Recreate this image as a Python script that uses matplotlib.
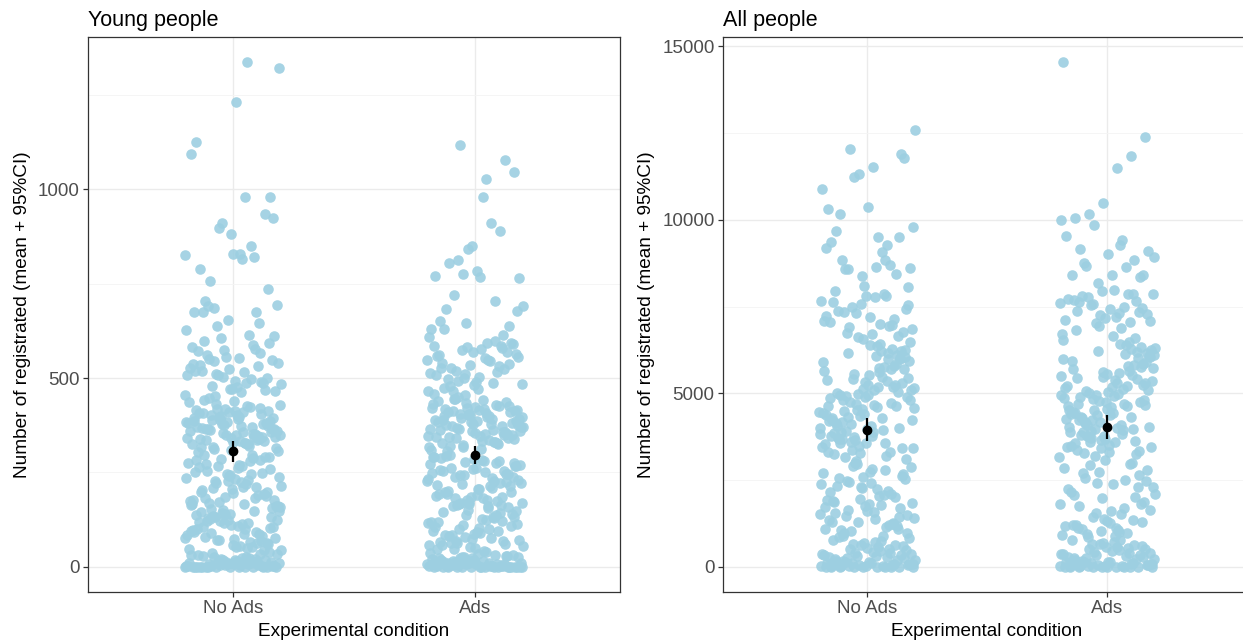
import numpy as np
import matplotlib
matplotlib.use("Agg")
import matplotlib.pyplot as plt
from matplotlib.ticker import MultipleLocator

plt.rcParams['font.family'] = ['Liberation Sans', 'DejaVu Sans']

conditions = ["No Ads", "Ads"]
panel_titles = ["Young people", "All people"]
y_label = "Number of registrated (mean + 95%CI)"
x_label = "Experimental condition"

young_noads = [
    0,0,0,0,0,0,0,0,0,0,0,3,5,2,8,1,12,6,0,15,4,9,22,0,18,7,30,11,25,3,14,0,35,19,2,27,6,38,10,0,21,16,33,4,28,0,13,9,24,37,1,17,31,5,20,
    45,88,120,62,140,97,53,131,75,108,145,67,115,84,49,126,102,58,137,91,71,149,113,80,43,123,95,65,134,106,52,118,86,142,77,99,128,60,111,93,147,70,124,56,104,82,139,47,116,89,132,73,101,64,121,
    158,212,273,187,240,165,295,228,176,261,199,284,151,236,218,170,290,205,252,183,268,160,224,297,193,247,174,279,209,156,233,264,190,286,215,167,255,198,242,178,288,221,162,270,203,249,185,276,230,154,258,196,282,211,172,239,266,181,292,226,163,245,
    312,365,402,338,421,355,384,327,446,372,309,395,343,418,361,332,408,377,350,436,321,389,366,414,303,347,399,428,358,336,381,411,324,369,452,345,392,316,405,375,340,426,362,387,330,415,353,398,307,372,441,334,383,360,423,318,394,349,407,338,379,456,327,364,412,342,386,353,431,314,397,368,344,419,380,326,403,357,438,371,335,390,348,410,366,
    468,523,582,497,545,612,476,534,566,503,628,488,551,594,470,519,578,509,540,462,597,486,556,527,615,478,548,493,571,531,605,484,515,560,499,472,536,587,512,465,553,520,490,575,507,
    1337,756,981,830,1127,674,897,1321,815,703,934,655,1095,849,687,923,1233,790,645,910,825,981,692,737,883,674,820,637,695,830,674,
]

young_ads = [
    0,0,0,0,0,0,0,0,0,0,0,0,2,6,1,11,4,0,17,3,8,24,0,14,5,29,10,21,2,13,0,33,18,1,26,7,39,9,0,22,15,31,4,27,0,12,8,19,36,2,16,30,6,23,0,25,9,41,3,28,
    52,94,131,68,148,103,57,122,79,115,155,63,109,87,48,138,99,71,127,84,60,151,118,76,46,133,92,66,142,111,55,125,81,157,73,105,129,62,113,90,146,69,136,58,101,85,140,50,119,96,
    168,221,279,194,247,172,292,235,181,266,205,287,163,242,226,176,296,213,258,188,274,166,230,283,198,253,178,271,215,161,239,262,192,281,219,170,251,202,245,184,290,228,164,268,207,255,186,277,232,160,261,199,285,216,174,243,269,183,294,224,167,249,209,237,276,190,256,222,
    318,371,408,344,426,359,388,331,449,376,312,399,348,421,365,337,412,381,354,439,325,393,370,417,306,351,402,431,362,340,385,415,328,373,455,347,396,320,409,379,343,429,366,391,334,418,357,401,310,377,444,338,386,363,427,322,398,352,411,341,383,458,330,368,416,346,389,356,434,317,400,372,349,423,384,329,406,361,441,375,437,404,420,392,445,413,
    472,528,586,501,549,593,480,538,570,507,598,492,555,577,474,523,582,513,544,466,590,489,560,531,575,483,552,497,568,535,584,488,519,563,503,541,579,510,466,547,526,594,481,558,516,
    1117,764,981,682,1077,841,629,910,719,1045,785,650,889,777,692,1027,806,637,851,770,703,812,679,768,629,615,647,610,
]

all_noads = [
    0,0,0,0,0,0,0,0,0,0,12,45,120,230,80,310,15,450,160,600,30,270,520,95,380,700,55,190,640,340,8,250,480,140,760,60,410,205,560,25,330,680,110,290,500,70,430,175,620,40,360,740,130,260,540,20,400,660,85,310,
    850,1420,2260,1100,2780,1650,960,2410,1880,1230,2950,1510,2050,880,2630,1760,1340,2190,1020,2870,1590,2340,1170,1960,2700,900,1470,2520,1810,1280,2100,2980,1400,2250,1050,1700,2600,1930,1150,2450,820,2830,1560,2020,1300,2380,1780,980,2680,1620,2150,1210,2900,1850,1370,2560,1080,2300,1720,2070,2480,1480,2740,1900,1260,
    3050,4450,5720,3680,6210,4890,3320,5360,4120,6480,3890,5010,4620,3470,5890,4280,3150,6040,5240,3760,4710,5560,3410,6350,4960,3990,5130,4380,3580,6170,5450,4050,3250,5800,4520,3830,6420,4800,5300,3560,4190,5980,3370,5090,4660,3720,6110,4340,5640,3940,4920,3110,5520,4240,6290,3640,4580,5170,3880,6000,4400,5380,3200,4750,5930,3780,4130,5250,4990,3450,6230,4480,5690,3960,4860,3300,5410,4220,6070,3690,5040,4560,3530,5770,4320,4900,6380,3850,5190,4700,3990,5600,4180,3420,5320,4640,6150,3610,4820,5080,4050,5850,3270,4430,5470,3920,6260,4950,4280,5700,3740,5150,4600,3560,6010,
    6560,7240,7800,6900,7530,6700,7960,7150,6620,7650,7010,7330,6780,7790,7060,6950,7500,6840,7760,7380,6650,7560,7090,7870,6730,7430,7200,7640,6980,7310,
    12580,9490,8830,11890,8080,10300,9270,12030,8600,11510,9690,8450,11310,10880,9060,8570,11770,10360,9350,8710,11220,9780,8630,10180,9490,8370,9200,8830,8570,8050,
]

all_ads = [
    0,0,0,0,0,0,0,0,0,0,0,18,60,140,260,95,330,22,470,180,610,35,290,540,110,400,720,50,210,660,360,10,240,500,150,780,75,430,220,580,28,350,690,125,300,520,65,450,190,640,45,380,760,135,270,560,15,410,670,90,
    880,1130,2310,1020,2850,1700,940,2460,1250,1190,2990,1560,2110,1060,1080,1810,1390,2240,970,2920,1640,2390,1210,2000,2740,910,1520,2570,1860,1330,2160,2960,1440,2290,1110,1750,2650,1980,1170,2510,850,2800,1600,2060,1350,2420,1820,1000,2700,1280,
    3080,4520,5780,3710,6260,4930,3360,5410,4170,6540,3930,5060,4670,3500,5940,4320,3190,6090,5290,3800,4760,5610,3440,6400,5000,4030,5180,4420,3620,6220,5500,4090,3290,5850,4560,3870,6470,4840,5350,3600,4230,6030,3410,5140,4700,3760,6160,4380,5690,3980,4960,3150,5570,4280,6340,3680,4620,5220,3920,6050,4440,5430,3240,4790,5980,3820,4170,5300,5030,3490,6280,4520,5740,4000,4900,3340,5460,4260,6120,3730,5090,4600,3570,5820,4360,4940,6430,3890,5240,4740,4030,5650,4220,3460,5370,4680,6200,3650,4860,5120,4090,5900,3310,4470,5520,3960,6310,4990,4320,5750,3780,5200,4640,3600,6060,6650,6820,6580,6930,6720,6880,4150,4810,5560,4400,
    7050,7570,7850,7200,7640,7350,7950,7120,7500,7780,7280,7420,7690,7850,7030,7600,7310,7810,7460,7180,7720,7850,7530,7090,7990,7380,7660,7250,
    14540,9430,8660,12380,9000,8400,11830,9840,8920,11480,9170,8340,10470,9520,8630,10180,9090,8400,10040,8830,8190,9980,9260,8740,8400,
]

panels = [
    (young_noads, young_ads),
    (all_noads, all_ads),
]
ylims = [(-67, 1404), (-727, 15267)]
major_steps = [500, 5000]
minor_steps = [250, 2500]

W, H = 1243, 640
fig = plt.figure(figsize=(W / 100, H / 100), dpi=100)
ax_rects = [
    (88 / W, 48 / H, 532 / W, 555 / H),
    (723 / W, 48 / H, 528 / W, 555 / H),
]

point_color = '#9dcfe1'
golden = 0.6180339887
jitter_w = 0.2

for k, (rect, groups) in enumerate(zip(ax_rects, panels)):
    ax = fig.add_axes(rect)
    ax.set_xlim(0.4, 2.6)
    ax.set_ylim(*ylims[k])
    ax.yaxis.set_major_locator(MultipleLocator(major_steps[k]))
    ax.yaxis.set_minor_locator(MultipleLocator(minor_steps[k]))
    ax.grid(True, which='major', color='#ebebeb', linewidth=1.0, zorder=0)
    ax.grid(True, which='minor', axis='y', color='#f4f4f4', linewidth=0.6, zorder=0)
    ax.set_axisbelow(True)
    for s in ax.spines.values():
        s.set_color('#333333')
        s.set_linewidth(0.9)
    for gi, vals in enumerate(groups):
        pos = gi + 1
        vals = np.asarray(vals, dtype=float)
        n = len(vals)
        idx = np.arange(n)
        frac = (idx * golden + 0.37 * gi + 0.13 * k) % 1.0
        xs = pos + jitter_w * (2 * frac - 1)
        ax.scatter(xs, vals, s=58, color=point_color, alpha=0.9, linewidths=0, zorder=2)
        m = vals.mean()
        ci = 1.97 * vals.std(ddof=1) / np.sqrt(n)
        ax.errorbar([pos], [m], yerr=[[ci], [ci]], fmt='o', color='black', ms=6,
                    elinewidth=1.6, capsize=0, zorder=4)
    ax.set_xticks([1, 2])
    ax.set_xticklabels(conditions)
    ax.tick_params(axis='both', which='major', labelsize=13.5, labelcolor='#4d4d4d',
                   color='#333333', length=3.5, width=0.9, pad=2.5)
    ax.tick_params(axis='y', which='minor', length=0)
    ax.set_xlabel(x_label, fontsize=13.7, color='black', labelpad=4)
    ax.set_ylabel(y_label, fontsize=13.7, color='black', labelpad=5)
    ax.set_title(panel_titles[k], loc='left', fontsize=15.5, color='black', pad=8)

fig.savefig('out.png', dpi=100)
